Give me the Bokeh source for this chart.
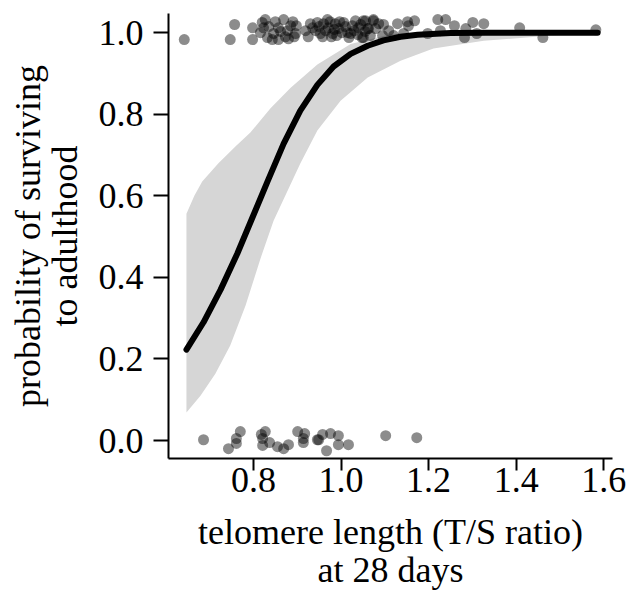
from bokeh.plotting import figure
from bokeh.models import Range1d, FixedTicker, PrintfTickFormatter, LinearAxis
from bokeh.embed import file_html
from bokeh.resources import INLINE

# ---- data ----
x_ticks = [0.8, 1.0, 1.2, 1.4, 1.6]
y_ticks = [0.0, 0.2, 0.4, 0.6, 0.8, 1.0]

# survivors (jittered around 1)
top_x = [0.642, 0.747, 0.757, 0.798, 0.798, 0.816, 0.823, 0.827, 0.832, 0.843,
         0.846, 0.857, 0.857, 0.869, 0.873, 0.878, 0.885, 0.896, 0.898, 0.919,
         0.930, 0.942, 0.946, 0.953, 0.960, 0.969, 0.971, 0.981, 0.987, 0.994,
         1.006, 1.015, 1.022, 1.026, 1.033, 1.040, 1.051, 1.063, 1.074, 1.086,
         0.925, 0.935, 0.950, 0.958, 0.965, 0.975, 0.978, 0.985, 0.990, 0.997,
         1.002, 1.010, 1.018, 1.030, 1.038, 1.045, 1.048, 1.055,
         0.820, 0.835, 0.850, 0.862, 0.880, 0.890, 0.893,
         1.051, 1.056, 1.061, 1.067, 1.074, 1.079, 1.095, 1.097, 1.120, 1.129,
         1.143, 1.152, 1.154, 1.168, 1.109,
         1.198, 1.221, 1.227, 1.239, 1.259, 1.282, 1.285, 1.301, 1.310, 1.326,
         1.408, 1.461, 1.582]
top_y = [0.983, 0.983, 1.020, 1.012, 0.983, 1.000, 1.012, 1.032, 0.988, 0.983,
         0.998, 1.012, 0.983, 1.032, 0.990, 1.005, 1.017, 0.998, 1.017, 1.005,
         1.022, 1.005, 1.025, 0.998, 1.022, 1.032, 1.012, 0.998, 1.022, 1.010,
         1.025, 1.000, 0.998, 1.017, 1.029, 1.012, 1.029, 1.010, 1.032, 1.022,
         0.990, 1.012, 1.015, 0.990, 1.005, 1.027, 0.990, 1.008, 0.993, 1.027,
         1.000, 1.015, 0.988, 1.005, 0.995, 1.020, 0.988, 1.003,
         1.025, 1.015, 1.027, 1.003, 0.985, 1.027, 0.990,
         0.988, 1.029, 1.010, 0.993, 1.029, 1.010, 0.993, 1.020, 0.993, 1.022,
         0.998, 1.027, 1.017, 1.029, 1.005,
         0.998, 1.032, 1.005, 1.032, 1.017, 0.988, 1.010, 1.025, 0.998, 1.022,
         1.012, 0.988, 1.007]

# non-survivors (jittered around 0)
bottom_x = [0.686, 0.743, 0.761, 0.761, 0.770, 0.818, 0.827, 0.821, 0.821, 0.837,
            0.855, 0.869, 0.880, 0.901, 0.917, 0.914, 0.914, 0.946, 0.949, 0.958,
            0.967, 0.976, 0.994, 0.994, 1.017, 1.102, 1.173]
bottom_y = [0.002, -0.020, -0.007, 0.005, 0.022, 0.015, 0.022, 0.005, -0.012, -0.005,
            -0.015, -0.020, -0.010, 0.022, 0.017, 0.005, -0.005, 0.002, 0.002, 0.015,
            -0.025, 0.017, 0.012, -0.010, -0.010, 0.012, 0.007]

# fitted probability
curve_x = [0.647, 0.686, 0.725, 0.763, 0.797, 0.832, 0.869, 0.907, 0.946, 0.983,
           1.022, 1.061, 1.097, 1.136, 1.175, 1.25, 1.33, 1.48, 1.586]
curve_y = [0.223, 0.290, 0.370, 0.458, 0.545, 0.635, 0.728, 0.809, 0.872, 0.917,
           0.948, 0.968, 0.981, 0.990, 0.995, 0.999, 1.0, 1.0, 1.0]

# confidence band
upper_x = [0.647, 0.665, 0.683, 0.720, 0.760, 0.793, 0.839, 0.885, 0.946, 1.022,
           1.113, 1.182, 1.586]
upper_y = [0.556, 0.600, 0.635, 0.680, 0.722, 0.755, 0.815, 0.865, 0.922, 0.972,
           0.996, 1.0, 1.0]
lower_x = [0.647, 0.679, 0.713, 0.747, 0.782, 0.816, 0.846, 0.907, 0.946, 0.999,
           1.061, 1.136, 1.211, 1.326, 1.479, 1.586]
lower_y = [0.069, 0.110, 0.164, 0.233, 0.331, 0.446, 0.539, 0.679, 0.760, 0.833,
           0.890, 0.931, 0.961, 0.980, 0.993, 0.998]

x_label = ["telomere length (T/S ratio)", "at 28 days"]
y_label = ["probability of surviving", "to adulthood"]

FONT = "Liberation Serif"

p = figure(frame_width=444, frame_height=445,
           x_range=Range1d(0.606, 1.62), y_range=Range1d(-0.044, 1.047),
           output_backend="svg", toolbar_location=None,
           min_border_left=168, min_border_right=17,
           min_border_top=13, min_border_bottom=132)
p.outline_line_color = None
p.grid.visible = False
p.background_fill_color = "white"
p.border_fill_color = "white"

band_x = upper_x + lower_x[::-1]
band_y = upper_y + lower_y[::-1]
p.patch(band_x, band_y, fill_color="#d6d6d6", line_color=None)
p.line(curve_x, curve_y, line_width=6, line_color="black", line_cap="round", line_join="round")
p.scatter(top_x, top_y, size=11, fill_color="black", fill_alpha=0.45, line_color=None)
p.scatter(bottom_x, bottom_y, size=11, fill_color="black", fill_alpha=0.45, line_color=None)


def style_label(ax):
    ax.axis_label_text_font = FONT
    ax.axis_label_text_font_size = "36px"
    ax.axis_label_text_font_style = "normal"
    ax.axis_label_text_color = "black"


for ax in (p.xaxis[0], p.yaxis[0]):
    ax.axis_line_width = 2
    ax.axis_line_color = "black"
    ax.major_tick_line_width = 2
    ax.major_tick_line_color = "black"
    ax.minor_tick_line_color = None
    ax.major_tick_in = 0
    ax.major_label_text_font = FONT
    ax.major_label_text_font_size = "36px"
    ax.major_label_text_color = "black"
    ax.formatter = PrintfTickFormatter(format="%.1f")
    style_label(ax)

xa = p.xaxis[0]
ya = p.yaxis[0]
xa.ticker = FixedTicker(ticks=x_ticks)
ya.ticker = FixedTicker(ticks=y_ticks)
xa.major_tick_out = 12
ya.major_tick_out = 15
xa.major_label_standoff = -3
ya.major_label_standoff = 10
xa.axis_label = x_label[0]
xa.axis_label_standoff = 17
ya.axis_label = y_label[1]
ya.axis_label_standoff = 11

# second lines of the axis titles, as bare axes stacked outside
x2 = LinearAxis(ticker=FixedTicker(ticks=[]), axis_line_color=None,
                major_tick_out=0, major_tick_in=0, minor_tick_line_color=None,
                major_label_standoff=0, axis_label=x_label[1], axis_label_standoff=-5)
style_label(x2)
p.add_layout(x2, "below")

y2 = LinearAxis(ticker=FixedTicker(ticks=[]), axis_line_color=None,
                major_tick_out=0, major_tick_in=0, minor_tick_line_color=None,
                major_label_standoff=0, axis_label=y_label[0], axis_label_standoff=-6)
style_label(y2)
p.add_layout(y2, "left")

open("out.html", "w").write(file_html(p, INLINE))
